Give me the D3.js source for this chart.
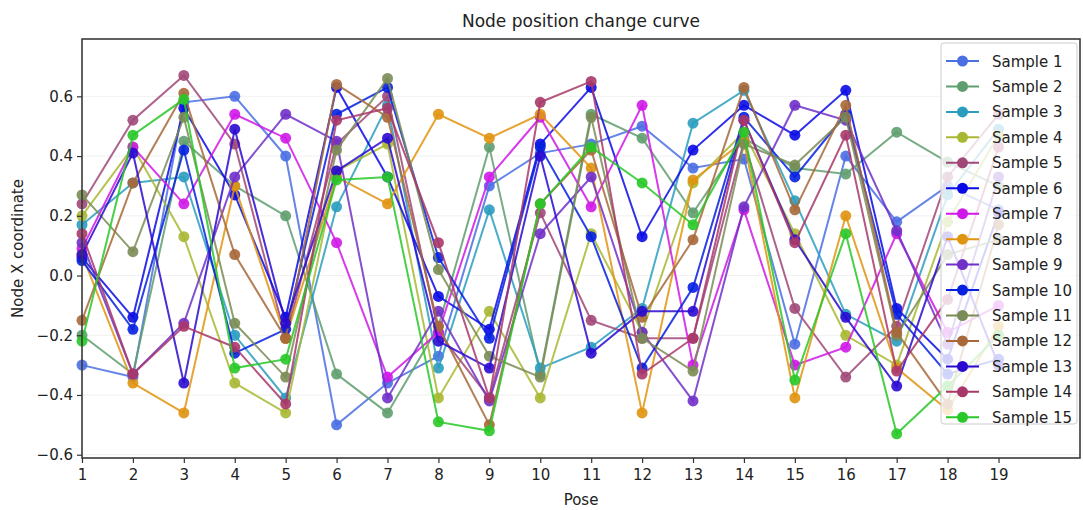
<!DOCTYPE html>
<html>
<head>
<meta charset="utf-8">
<script src="https://cdn.jsdelivr.net/npm/d3@7"></script>
<style>
  body { margin: 0; background: #fff; }
  text { font-family: "DejaVu Sans", sans-serif; }
</style>
</head>
<body>
<div id="chart"></div>
<script>
// data
const poses = d3.range(1, 20);
const yTicks = [-0.6, -0.4, -0.2, 0.0, 0.2, 0.4, 0.6];

const sample1  = [-0.30, -0.34, 0.58, 0.60, 0.40, -0.50, -0.36, -0.27, 0.30, 0.41, 0.44, 0.50, 0.36, 0.39, -0.23, 0.40, 0.18, 0.30, 0.22];
const sample2  = [-0.20, -0.33, 0.45, 0.30, 0.20, -0.33, -0.46, -0.17, 0.43, -0.33, 0.54, 0.46, 0.21, 0.46, 0.36, 0.34, 0.48, 0.38, 0.30];
const sample3  = [0.17, 0.31, 0.33, -0.20, -0.41, 0.23, 0.57, -0.31, 0.22, -0.31, -0.24, -0.11, 0.51, 0.62, 0.25, -0.13, -0.22, 0.27, 0.49];
const sample4  = [0.20, 0.43, 0.13, -0.36, -0.46, 0.35, 0.44, -0.41, -0.12, -0.41, 0.14, -0.19, 0.31, 0.48, 0.14, -0.20, -0.30, 0.18, 0.47];
const sample5  = [0.24, 0.52, 0.67, 0.44, -0.21, 0.44, 0.60, -0.19, -0.41, 0.21, -0.15, -0.21, -0.21, 0.45, -0.11, -0.34, -0.17, 0.33, 0.54];
const sample6  = [0.06, -0.14, 0.56, 0.27, -0.14, 0.63, 0.33, -0.07, -0.18, 0.44, 0.63, 0.13, 0.42, 0.57, 0.47, 0.62, -0.11, -0.28, 0.21];
const sample7  = [0.09, 0.43, 0.24, 0.54, 0.46, 0.11, -0.34, -0.19, 0.33, 0.53, 0.23, 0.57, -0.30, 0.22, -0.30, -0.24, 0.14, -0.19, -0.10];
const sample8  = [0.07, -0.36, -0.46, 0.30, -0.21, 0.33, 0.24, 0.54, 0.46, 0.54, 0.36, -0.46, 0.32, 0.45, -0.41, 0.20, -0.31, -0.45, -0.17];
const sample9  = [0.11, -0.33, -0.16, 0.33, 0.54, 0.45, -0.41, -0.12, -0.42, 0.14, 0.33, -0.19, -0.42, 0.23, 0.57, 0.52, 0.15, -0.23, 0.33];
const sample10 = [0.05, -0.18, 0.42, -0.26, -0.18, 0.54, 0.63, 0.06, -0.21, 0.43, 0.13, -0.31, -0.04, 0.53, 0.33, 0.54, -0.13, -0.33, -0.28];
const sample11 = [0.27, 0.08, 0.53, -0.16, -0.34, 0.42, 0.66, 0.02, -0.27, -0.34, 0.53, -0.21, -0.32, 0.44, 0.37, 0.53, -0.20, 0.07, 0.12];
const sample12 = [-0.15, 0.31, 0.61, 0.07, -0.21, 0.64, 0.53, -0.17, -0.50, 0.24, 0.42, -0.14, 0.12, 0.63, 0.22, 0.57, -0.19, -0.43, 0.17];
const sample13 = [0.07, 0.41, -0.36, 0.49, -0.16, 0.35, 0.46, -0.22, -0.31, 0.40, -0.26, -0.12, -0.12, 0.52, 0.12, -0.14, -0.37, 0.13, -0.30];
const sample14 = [0.14, -0.33, -0.17, -0.24, -0.43, 0.52, 0.56, 0.11, -0.41, 0.58, 0.65, -0.33, -0.21, 0.52, 0.11, 0.47, -0.32, -0.08, 0.43];
const sample15 = [-0.22, 0.47, 0.59, -0.31, -0.28, 0.32, 0.33, -0.49, -0.52, 0.24, 0.43, 0.31, 0.17, 0.48, -0.35, 0.14, -0.53, -0.37, -0.20];

const sampleNames = d3.range(1, 16).map(i => "Sample " + i);
const sampleColors = ["#4a6fe3", "#5f9e6e", "#2a9dbf", "#a9b832", "#a04878", "#0a0ae6",
  "#d018e8", "#e0940f", "#7030c8", "#0520e0", "#7a8c55", "#a86838", "#2a0ad0", "#a8386a", "#28c828"];
const samples = [sample1, sample2, sample3, sample4, sample5, sample6, sample7, sample8,
  sample9, sample10, sample11, sample12, sample13, sample14, sample15];

const width = 1083, height = 510;
const plotLeft = 82, plotRight = 1080, plotTop = 39, plotBottom = 458;

const svg = d3.select("#chart").append("svg")
  .attr("width", width)
  .attr("height", height);

const x = d3.scaleLinear().domain([1, 20.6]).range([plotLeft, plotRight]);
const y = d3.scaleLinear().domain([-0.611, 0.792]).range([plotBottom, plotTop]);

// grid
svg.append("g")
  .selectAll("line")
  .data(yTicks)
  .join("line")
  .attr("x1", plotLeft).attr("x2", plotRight)
  .attr("y1", d => y(d)).attr("y2", d => y(d))
  .attr("stroke", "#ececec")
  .attr("stroke-width", 0.8);

// lines and markers
const line = d3.line()
  .x((d, i) => x(poses[i]))
  .y(d => y(d));

const series = svg.append("g")
  .selectAll("g")
  .data(samples)
  .join("g");

series.append("path")
  .attr("d", d => line(d))
  .attr("fill", "none")
  .attr("stroke", (d, i) => sampleColors[i])
  .attr("stroke-width", 2)
  .attr("stroke-opacity", 0.85);

series.each(function (d, i) {
  d3.select(this).selectAll("circle")
    .data(d)
    .join("circle")
    .attr("cx", (v, j) => x(poses[j]))
    .attr("cy", v => y(v))
    .attr("r", 5.5)
    .attr("fill", sampleColors[i])
    .attr("fill-opacity", 0.9);
});

// frame
svg.append("rect")
  .attr("x", plotLeft).attr("y", plotTop)
  .attr("width", plotRight - plotLeft).attr("height", plotBottom - plotTop)
  .attr("fill", "none")
  .attr("stroke", "#3a3a3a")
  .attr("stroke-width", 1.6);

// axes
const xAxis = svg.append("g")
  .attr("transform", `translate(0,${plotBottom})`)
  .call(d3.axisBottom(x).tickValues(poses).tickFormat(d3.format("d")).tickSize(5).tickPadding(6));
const yAxis = svg.append("g")
  .attr("transform", `translate(${plotLeft},0)`)
  .call(d3.axisLeft(y).tickValues(yTicks)
    .tickFormat(d => d3.format(".1f")(d).replace("-", "\u2212")).tickSize(5).tickPadding(4));

[xAxis, yAxis].forEach(g => {
  g.select(".domain").remove();
  g.selectAll(".tick line").attr("stroke", "#333").attr("stroke-width", 1.2);
  g.selectAll(".tick text")
    .attr("font-size", "15px")
    .attr("fill", "#222")
    .style("font-family", "DejaVu Sans, sans-serif");
});

// titles
svg.append("text")
  .attr("x", (plotLeft + plotRight) / 2).attr("y", 27)
  .attr("text-anchor", "middle")
  .attr("font-size", "17px")
  .attr("fill", "#222")
  .text("Node position change curve");

svg.append("text")
  .attr("x", (plotLeft + plotRight) / 2).attr("y", 505)
  .attr("text-anchor", "middle")
  .attr("font-size", "15px")
  .attr("fill", "#222")
  .text("Pose");

svg.append("text")
  .attr("transform", `translate(23,${(plotTop + plotBottom) / 2}) rotate(-90)`)
  .attr("text-anchor", "middle")
  .attr("font-size", "15px")
  .attr("fill", "#222")
  .text("Node X coordinate");

// legend
const legend = svg.append("g");
legend.append("rect")
  .attr("x", 941).attr("y", 43)
  .attr("width", 136).attr("height", 381)
  .attr("rx", 3)
  .attr("fill", "#fff").attr("fill-opacity", 0.8)
  .attr("stroke", "#ccc");

const items = legend.selectAll("g.item")
  .data(sampleNames)
  .join("g")
  .attr("class", "item")
  .attr("transform", (d, i) => `translate(0,${61 + i * 25.45})`);

items.append("line")
  .attr("x1", 946).attr("x2", 979)
  .attr("stroke", (d, i) => sampleColors[i])
  .attr("stroke-width", 2);
items.append("circle")
  .attr("cx", 962.5).attr("r", 5.5)
  .attr("fill", (d, i) => sampleColors[i]);
items.append("text")
  .attr("x", 992).attr("y", 5.5)
  .attr("font-size", "15px")
  .attr("fill", "#222")
  .text(d => d);
</script>
</body>
</html>
